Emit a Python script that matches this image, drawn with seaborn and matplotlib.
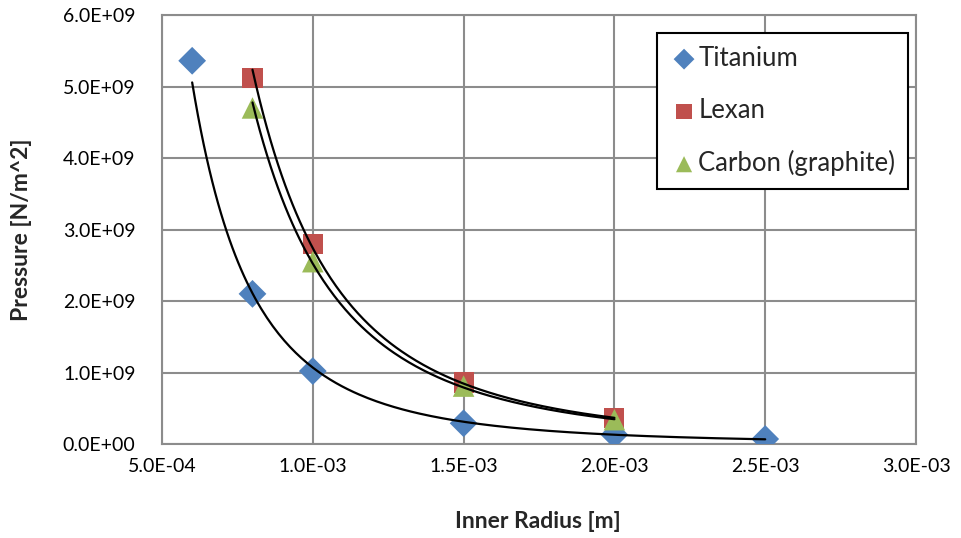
import numpy as np
import pandas as pd
import matplotlib
matplotlib.use("Agg")
import matplotlib.pyplot as plt
import seaborn as sns
from matplotlib.ticker import FuncFormatter

# ---- data ----
ti_x = [6.0e-4, 8.0e-4, 1.0e-3, 1.5e-3, 2.0e-3, 2.5e-3]
ti_y = [5.36e9, 2.10e9, 1.02e9, 0.29e9, 0.13e9, 0.07e9]
lex_x = [8.0e-4, 1.0e-3, 1.5e-3, 2.0e-3]
lex_y = [5.12e9, 2.80e9, 0.86e9, 0.36e9]
car_x = [8.0e-4, 1.0e-3, 1.5e-3, 2.0e-3]
car_y = [4.70e9, 2.55e9, 0.81e9, 0.34e9]
series_names = ["Titanium", "Lexan", "Carbon (graphite)"]
colors = ["#4F81BD", "#C0504D", "#9BBB59"]
markers = ["D", "s", "^"]
x_ticks = [5.0e-4, 1.0e-3, 1.5e-3, 2.0e-3, 2.5e-3, 3.0e-3]
y_ticks = [0, 1e9, 2e9, 3e9, 4e9, 5e9, 6e9]

sns.set_style("white")
plt.rcParams["font.family"] = ["Lato", "DejaVu Sans"]

fig = plt.figure(figsize=(9.62, 5.38), dpi=100)
ax = fig.add_axes([0.1684, 0.1747, 0.9522 - 0.1684, 0.9721 - 0.1747])

data_sets = [(ti_x, ti_y), (lex_x, lex_y), (car_x, car_y)]
frames = []
for name, (xs, ys) in zip(series_names, data_sets):
    frames.append(pd.DataFrame({"x": xs, "y": ys, "series": name}))
df = pd.concat(frames, ignore_index=True)

# power trendlines (least-squares fit of y = a*x^b, as in Excel)
trend_frames = []
for name, (xs, ys) in zip(series_names, data_sets):
    b, loga = np.polyfit(np.log(xs), np.log(ys), 1)
    xx = np.linspace(min(xs), max(xs), 200)
    trend_frames.append(pd.DataFrame({"x": xx, "y": np.exp(loga) * xx ** b, "series": name}))
tdf = pd.concat(trend_frames, ignore_index=True)

sizes = {"Titanium": 200, "Lexan": 210, "Carbon (graphite)": 240}
for name, col, mk in zip(series_names, colors, markers):
    sub = df[df.series == name]
    sns.scatterplot(data=sub, x="x", y="y", ax=ax, color=col, marker=mk,
                    s=sizes[name], edgecolor="none", label=name, zorder=3)

for name in series_names:
    sub = tdf[tdf.series == name]
    sns.lineplot(data=sub, x="x", y="y", ax=ax, color="black", linewidth=1.6,
                 legend=False, zorder=4, sort=False)

ax.set_xlim(5.0e-4, 3.0e-3)
ax.set_ylim(0, 6e9)
ax.set_xticks(x_ticks)
ax.set_yticks(y_ticks)
ax.xaxis.set_major_formatter(FuncFormatter(lambda v, p: f"{v:.1E}"))
ax.yaxis.set_major_formatter(FuncFormatter(lambda v, p: f"{v:.1E}"))
ax.grid(True, color="#8C8C8C", linewidth=1.5)
ax.set_axisbelow(True)
for sp in ax.spines.values():
    sp.set_color("#8C8C8C")
    sp.set_linewidth(1.5)
ax.tick_params(axis="y", length=0, labelsize=14, colors="black", pad=19)
ax.tick_params(axis="x", length=0, labelsize=14, colors="black", pad=10)

ax.set_xlabel("Inner Radius [m]", fontsize=16.5, fontweight="bold", va="center")
ax.set_ylabel("Pressure [N/m^2]", fontsize=16.5, fontweight="bold", va="center")
ax.xaxis.set_label_coords((538 - 162) / 754, (444 - 521) / 429)
ax.yaxis.set_label_coords((22 - 162) / 754, (444 - 230) / 429)

leg = ax.legend(loc="upper right", bbox_to_anchor=(0.9894, 0.958), fontsize=18.5,
                frameon=True, fancybox=False, edgecolor="black", framealpha=1,
                handletextpad=0.0, labelspacing=1.05, borderpad=0.5,
                borderaxespad=0, handlelength=1.1, markerscale=0.75)
leg.get_frame().set_linewidth(1.5)

fig.savefig("out.png", dpi=100)
